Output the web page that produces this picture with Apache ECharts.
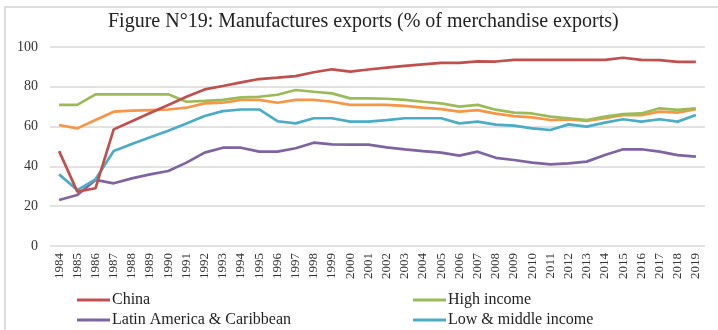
<!DOCTYPE html>
<html>
<head>
<meta charset="utf-8">
<title>Manufactures exports</title>
<script src="https://cdn.jsdelivr.net/npm/echarts@6/dist/echarts.min.js"></script>
<style>
  html, body { margin: 0; padding: 0; background: #fff; }
  #chart { width: 718px; height: 330px; }
</style>
</head>
<body>
<div id="chart"></div>
<script>
const years = ['1984', '1985', '1986', '1987', '1988', '1989', '1990', '1991', '1992', '1993', '1994', '1995',
  '1996', '1997', '1998', '1999', '2000', '2001', '2002', '2003', '2004', '2005', '2006', '2007',
  '2008', '2009', '2010', '2011', '2012', '2013', '2014', '2015', '2016', '2017', '2018', '2019'];

const china = [47.7, 27.3, 29, 58.6, 62.7, 66.8, 70.9, 75, 78.7, 80.4, 82.2, 83.9,
  84.6, 85.4, 87.3, 88.8, 87.6, 88.7, 89.6, 90.5, 91.3, 92, 92, 92.8,
  92.7, 93.5, 93.5, 93.5, 93.5, 93.5, 93.5, 94.6, 93.5, 93.4, 92.5, 92.5];

const highIncome = [70.9, 70.9, 76.2, 76.2, 76.2, 76.2, 76.2, 72.5, 72.9, 73.4, 74.7, 75,
  76, 78.4, 77.5, 76.7, 74.2, 74.2, 74, 73.4, 72.5, 71.7, 70, 70.9,
  68.5, 67, 66.6, 65, 64.2, 63.3, 65, 66.3, 66.6, 69.2, 68.4, 69.2];

// orange line has no legend entry in the original
const world = [60.8, 59.1, 63.3, 67.5, 68, 68.3, 68.6, 69.5, 71.7, 72, 73.4, 73.4,
  72, 73.4, 73.4, 72.5, 70.9, 70.9, 70.9, 70.4, 69.5, 68.8, 67.5, 68.3,
  66.5, 65.3, 64.6, 63.3, 63.6, 62.8, 64.2, 65.8, 65.8, 67.5, 67, 68.7];

const lowMiddle = [36, 28.1, 33.5, 47.7, 51.3, 54.6, 57.9, 61.6, 65.3, 67.8, 68.6, 68.6,
  62.7, 61.6, 64.2, 64.2, 62.5, 62.5, 63.3, 64.2, 64.2, 64.2, 61.6, 62.5,
  61, 60.5, 59.1, 58.3, 61.1, 60, 62, 63.7, 62.5, 63.7, 62.5, 65.8];

const latinAmerica = [23.1, 25.6, 33.2, 31.5, 34, 36, 37.7, 41.9, 46.9, 49.4, 49.4, 47.4,
  47.4, 49.1, 51.9, 51.1, 50.9, 50.9, 49.6, 48.6, 47.7, 46.9, 45.4, 47.4,
  44.3, 43.2, 41.9, 41, 41.5, 42.4, 45.7, 48.6, 48.6, 47.4, 45.7, 44.9];

const serif = '"Liberation Serif", "DejaVu Serif", serif';

const chart = echarts.init(document.getElementById('chart'));

function legendAt(name, left, top) {
  return {
    data: [name],
    left: left,
    top: top,
    padding: 0,
    icon: 'rect',
    itemWidth: 33,
    itemHeight: 3,
    textStyle: { fontFamily: serif, fontSize: 16, color: '#222', padding: [0, 0, 0, -3] },
  };
}

function line(name, data, color) {
  return {
    name: name,
    type: 'line',
    data: data,
    symbol: 'none',
    lineStyle: { width: 2.7, color: color },
    itemStyle: { color: color },
  };
}

const option = {
  animation: false,
  title: {
    text: 'Figure N°19: Manufactures exports (% of merchandise exports)',
    left: 108,
    top: 12,
    padding: 0,
    textStyle: { fontFamily: serif, fontSize: 20, fontWeight: 'normal', color: '#222' },
  },
  graphic: [{
    type: 'rect',
    shape: { x: 5, y: 7, width: 740, height: 360 },
    style: { fill: 'none', stroke: '#d4d4d4', lineWidth: 1.5 },
    silent: true,
  }],
  legend: [
    legendAt('China', 77, 292),
    legendAt('High income', 413, 292),
    legendAt('Latin America & Caribbean', 77, 312),
    legendAt('Low & middle income', 413, 312),
  ],
  grid: { left: 50, right: 13, top: 47, bottom: 84 },
  xAxis: {
    type: 'category',
    data: years,
    boundaryGap: true,
    axisLine: { show: false },
    axisTick: { show: false },
    axisLabel: { rotate: 90, margin: 7, fontFamily: serif, fontSize: 13, color: '#333', interval: 0 },
  },
  yAxis: {
    type: 'value',
    min: 0,
    max: 100,
    interval: 20,
    axisLine: { show: false },
    axisTick: { show: false },
    axisLabel: { margin: 12, fontFamily: serif, fontSize: 14, color: '#333' },
    splitLine: { lineStyle: { color: '#d9d9d9', width: 1.5 } },
  },
  series: [
    line('World', world, '#f79646'),
    line('Latin America & Caribbean', latinAmerica, '#8064a2'),
    line('Low & middle income', lowMiddle, '#4bacc6'),
    line('High income', highIncome, '#9bbb59'),
    line('China', china, '#c0504d'),
  ],
};

chart.setOption(option);
</script>
</body>
</html>
